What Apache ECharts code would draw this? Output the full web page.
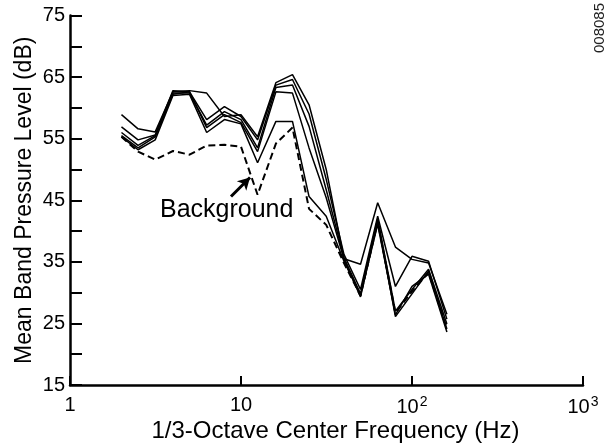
<!DOCTYPE html>
<html>
<head>
<meta charset="utf-8">
<script src="https://cdn.jsdelivr.net/npm/echarts@6/dist/echarts.min.js"></script>
<style>
html,body{margin:0;padding:0;background:#fff;}
#chart{width:613px;height:448px;}
</style>
</head>
<body>
<div id="chart"></div>
<script>
// 1/3-octave center frequencies (Hz)
const freqs = [2, 2.5, 3.15, 4, 5, 6.3, 8, 10, 12.5, 16, 20, 25, 31.5, 40, 50, 63, 80, 100, 125, 160];
// Mean band pressure levels (dB) for each run
const runA = [58.9, 56.6, 56.1, 62.6, 62.8, 62.4, 58.6, 58.9, 55.3, 64.1, 65.4, 60.5, 50.0, 35.5, 34.6, 44.6, 37.4, 35.4, 34.8, 26.5];
const runB = [56.9, 54.8, 55.6, 62.8, 62.6, 58.1, 60.2, 58.6, 54.8, 63.7, 64.6, 59.0, 48.4, 36.2, 30.5, 42.4, 31.0, 35.9, 35.1, 25.7];
const runC = [56.0, 53.9, 55.5, 62.4, 62.4, 57.2, 59.4, 58.1, 53.5, 63.3, 63.7, 57.0, 46.7, 35.7, 29.8, 42.0, 27.0, 30.5, 33.8, 24.9];
const runD = [55.5, 53.5, 55.3, 62.2, 62.6, 56.8, 58.9, 57.6, 52.9, 62.6, 62.4, 53.5, 45.4, 35.4, 29.3, 41.6, 26.1, 29.8, 33.5, 24.1];
const runE = [55.3, 53.2, 54.8, 62.0, 62.2, 56.0, 58.1, 57.4, 51.1, 57.8, 57.8, 45.6, 42.4, 35.1, 29.6, 41.1, 26.4, 31.0, 33.0, 23.6];
const background = [55.3, 52.9, 51.6, 53.0, 52.4, 53.9, 54.0, 53.7, 45.9, 54.2, 56.8, 43.6, 41.0, 34.8, 29.5, 41.5, 26.7, 30.2, 33.3, 24.1];
// tick labels
const xTickValues = [1, 10, 100, 1000];
const xTickLabels = ['1', '10', '10{sup|2}', '10{sup|3}'];
const yTickLabels = [15, 25, 35, 45, 55, 65, 75];
// annotation arrow (data coords: frequency, dB)
const arrowFrom = [8.74, 45.6];
const arrowTo = [11.29, 48.7];

const FONT = 'Liberation Sans, Arial, Helvetica, sans-serif';

function pairs(ys) { return freqs.map((f, i) => [f, ys[i]]); }

const solidRuns = [runA, runB, runC, runD, runE];
const series = solidRuns.map(r => ({
  type: 'line', data: pairs(r), symbol: 'none', silent: true,
  lineStyle: { color: '#000', width: 1.5 }
}));
series.push({
  type: 'line', data: pairs(background), symbol: 'none', silent: true,
  lineStyle: { color: '#000', width: 2, type: [7, 4] },
  markLine: {
    silent: true, symbol: ['none', 'arrow'], symbolSize: [10, 12],
    lineStyle: { color: '#000', width: 3, type: 'solid' },
    label: { show: false },
    data: [[{ coord: arrowFrom }, { coord: arrowTo }]]
  }
});

const chart = echarts.init(document.getElementById('chart'), null, { renderer: 'canvas' });
chart.setOption({
  animation: false,
  backgroundColor: '#fff',
  grid: { left: 70, right: 30, top: 15.5, bottom: 62, containLabel: false },
  xAxis: {
    type: 'log', logBase: 10, min: 1, max: 1000,
    name: '1/3-Octave Center Frequency (Hz)',
    nameLocation: 'middle', nameGap: 34, nameMoveOverlap: false,
    nameTextStyle: { fontFamily: FONT, fontSize: 24, color: '#000', padding: [0, 0, 0, 18] },
    axisLine: { lineStyle: { color: '#000', width: 2.5 } },
    axisTick: { inside: true, length: 9, lineStyle: { color: '#000', width: 2 } },
    minorTick: { show: false },
    splitLine: { show: false },
    axisLabel: {
      margin: 10, color: '#000', fontFamily: FONT, fontSize: 20,
      formatter: v => { const i = xTickValues.indexOf(Math.round(v)); return i >= 0 ? xTickLabels[i] : ''; },
      rich: { sup: { fontSize: 14, fontFamily: FONT, color: '#000', verticalAlign: 'top', padding: [0, 0, 10, 1] } }
    }
  },
  yAxis: {
    type: 'value', min: 15, max: 75, interval: 5,
    name: 'Mean Band Pressure Level (dB)',
    nameLocation: 'middle', nameGap: 34, nameRotate: 90, nameMoveOverlap: false,
    nameTextStyle: { fontFamily: FONT, fontSize: 23, color: '#000' },
    axisLine: { show: true, lineStyle: { color: '#000', width: 2.5 } },
    axisTick: { inside: true, length: 12, lineStyle: { color: '#000', width: 2 } },
    splitLine: { show: false },
    axisLabel: {
      margin: 5, color: '#000', fontFamily: FONT, fontSize: 20,
      formatter: v => yTickLabels.indexOf(v) >= 0 ? String(v) : ''
    }
  },
  graphic: [
    { type: 'text', left: 160, top: 198, silent: true,
      style: { text: 'Background', font: '25px ' + FONT, fill: '#000' } },
    { type: 'text', left: 592, top: 3, rotation: Math.PI / 2, silent: true,
      style: { text: '008085', font: '15px ' + FONT, fill: '#222' } }
  ],
  series: series
});
</script>
</body>
</html>
